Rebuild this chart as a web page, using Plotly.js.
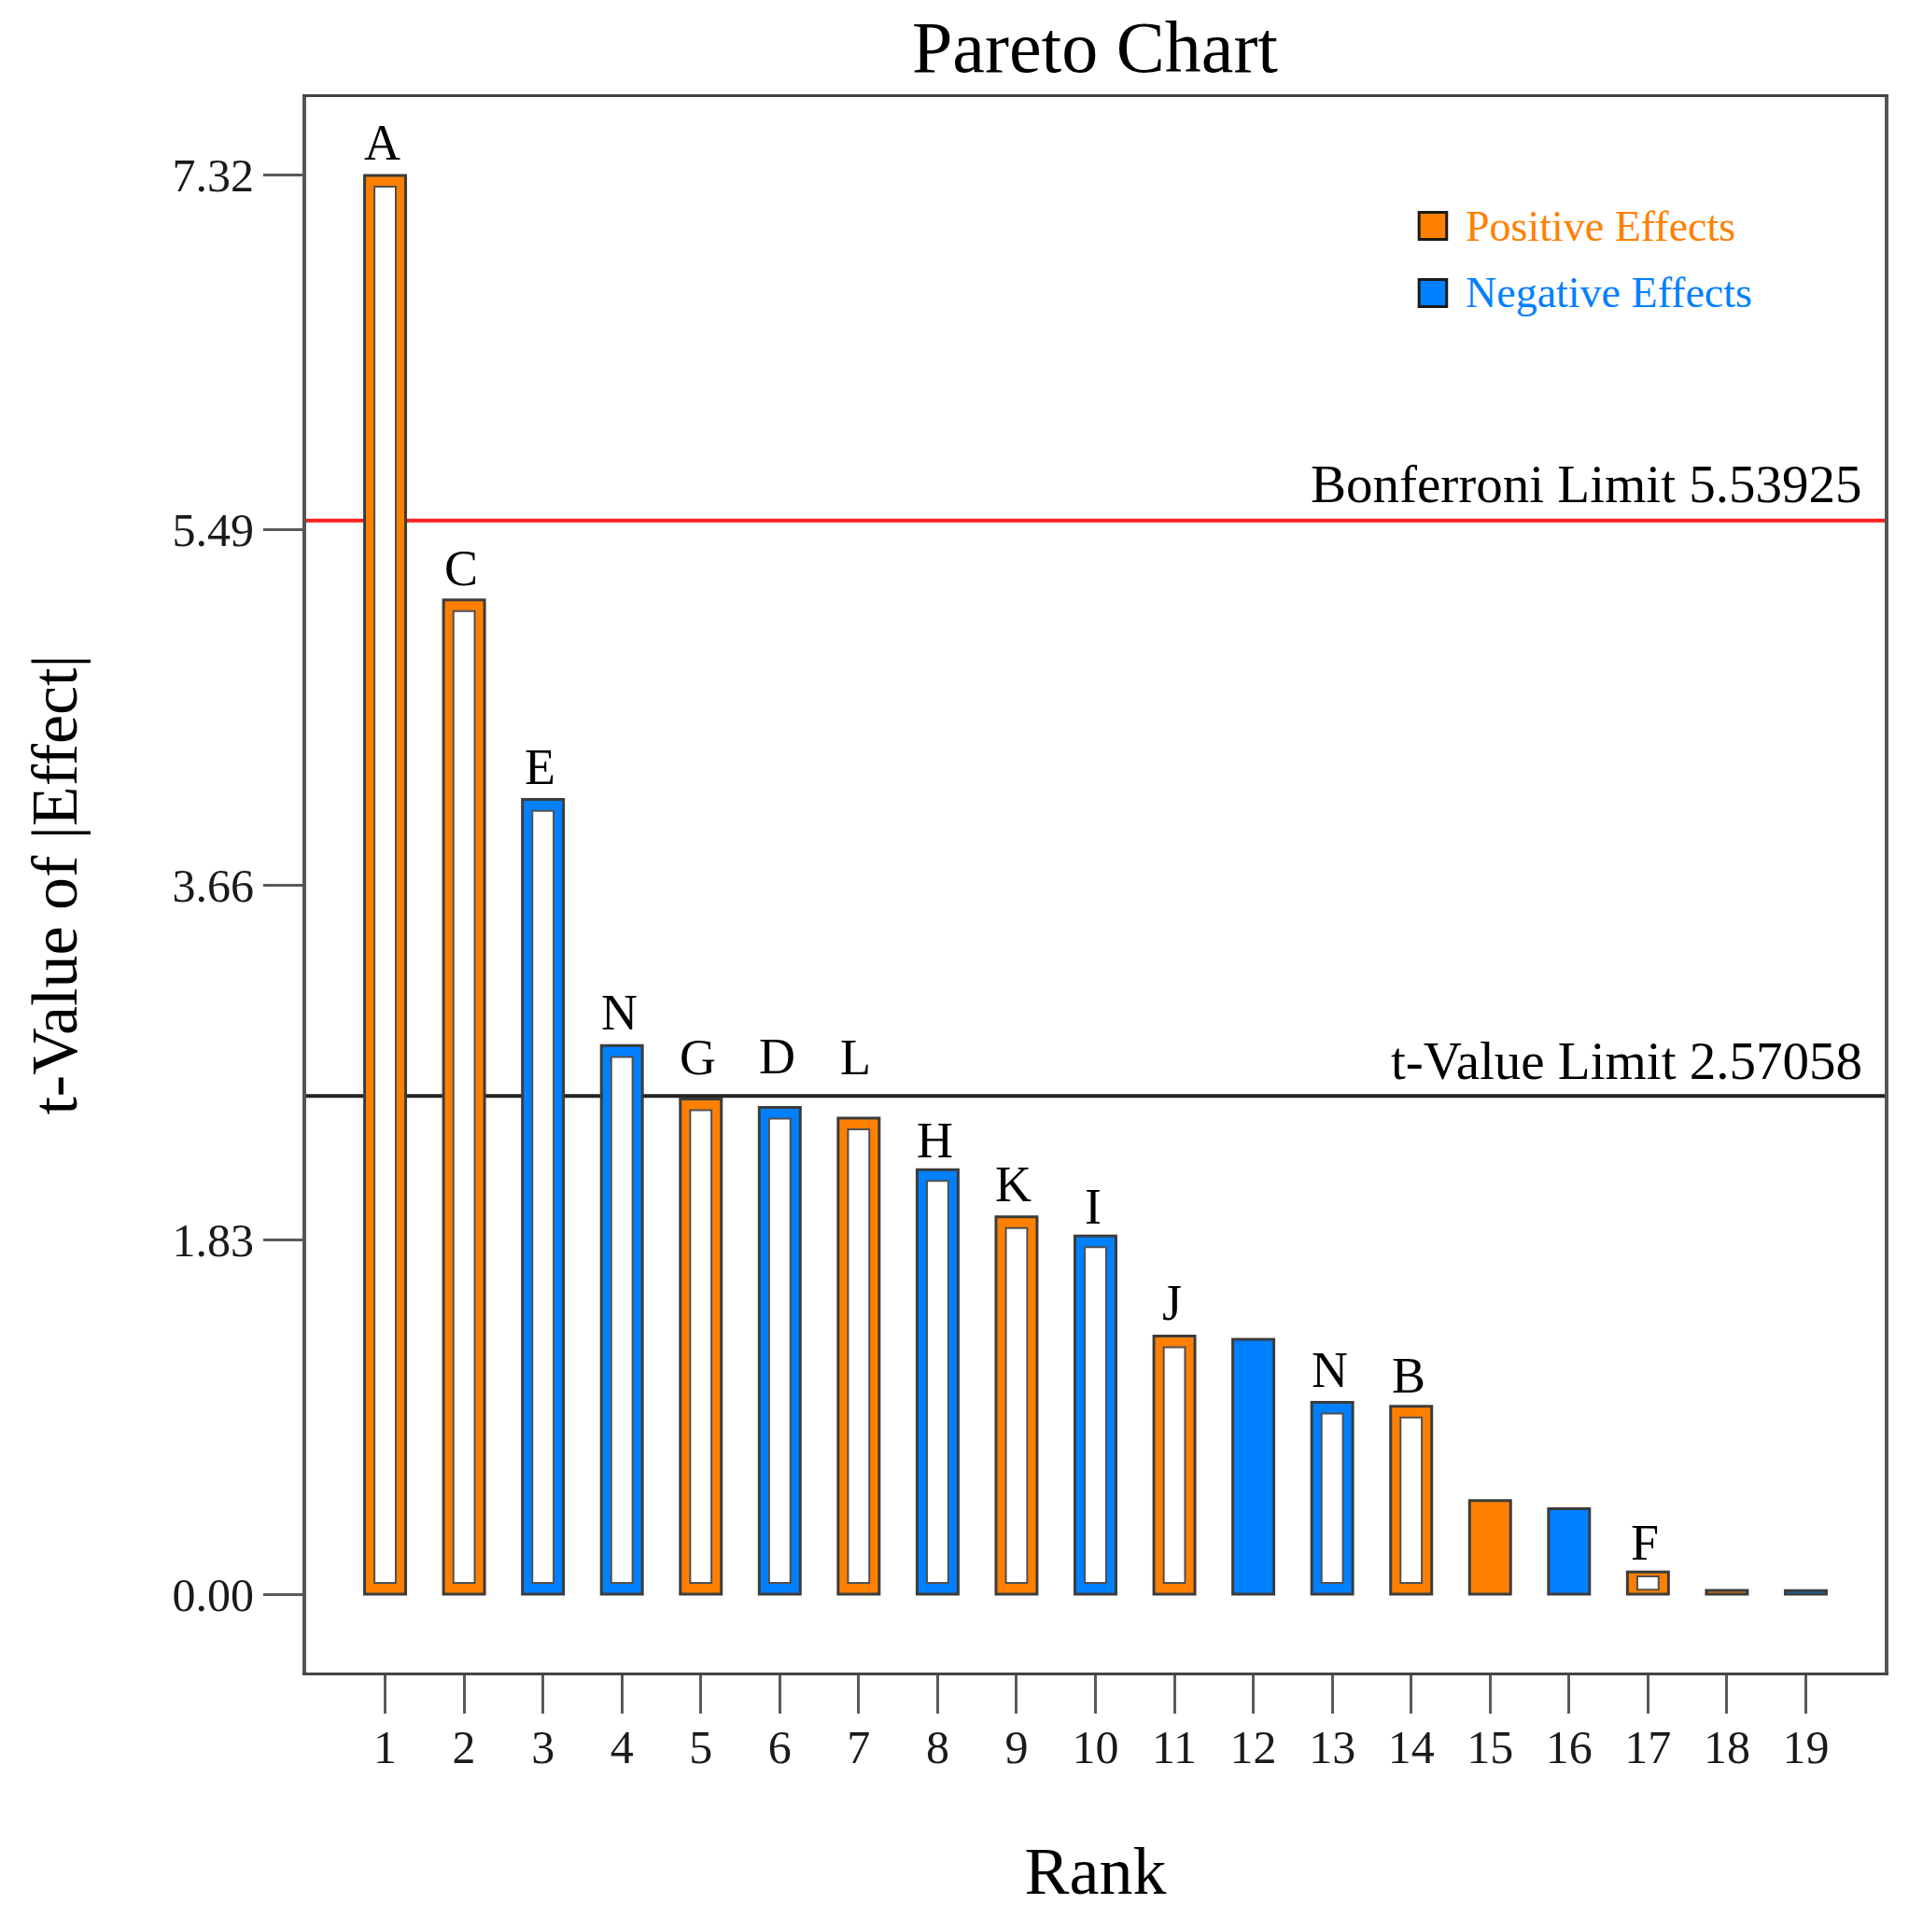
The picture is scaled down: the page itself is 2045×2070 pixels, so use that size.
<!DOCTYPE html>
<html>
<head>
<meta charset="utf-8">
<script src="https://cdn.plot.ly/plotly-3.0.1.min.js"></script>
<style>
  html, body { margin: 0; padding: 0; background: #ffffff; }
  #chart { width: 2045px; height: 2070px; }
</style>
</head>
<body>
<div id="chart"></div>
<script>
// ---- data ----
const ranks = [1, 2, 3, 4, 5, 6, 7, 8, 9, 10, 11, 12, 13, 14, 15, 16, 17, 18, 19];
const tValues = [7.32, 5.13, 4.10, 2.83, 2.555, 2.512, 2.456, 2.19, 1.947, 1.848, 1.332, 1.315, 0.99, 0.97, 0.483, 0.441, 0.115, 0.02, 0.019];
const termLabels = ['A', 'C', 'E', 'N', 'G', 'D', 'L', 'H', 'K', 'I', 'J', '', 'N', 'B', '', '', 'F', '', ''];
const effectSigns = ['+', '+', '-', '-', '+', '-', '+', '-', '+', '-', '+', '-', '-', '+', '+', '-', '+', '+', '-'];
const bonferroniLimit = 5.53925;
const tValueLimit = 2.57058;
const yTickVals = [0, 1.83, 3.66, 5.49, 7.32];
const yTickText = ['0.00', '1.83', '3.66', '5.49', '7.32'];
const legendNames = ['Positive Effects', 'Negative Effects'];

// ---- styles ----
const ORANGE = '#FF8000';
const BLUE = '#0080FF';
const FONT = 'Liberation Serif, Times New Roman, serif';
const barColors = effectSigns.map(s => s === '+' ? ORANGE : BLUE);
const inModel = termLabels.map(l => l !== '');
// extra vertical nudge (px) of some term labels, to mimic the label de-overlap
const labelNudge = { 2: -1, 5: 9, 6: 19, 7: 30, 8: -4, 10: -4, 14: -2, 17: -4 };

// outer bars
const outer = {
  type: 'bar', x: ranks, y: tValues, width: 0.52,
  marker: { color: barColors, line: { color: '#3c3c3c', width: 3 } },
  hoverinfo: 'skip', showlegend: false
};

// inner (hollow) rectangles for model terms
const hx = [], hy = [], hb = [];
ranks.forEach((r, i) => {
  if (!inModel[i]) return;
  const inset = Math.min(0.058, tValues[i] * 0.2);
  hx.push(r); hb.push(inset); hy.push(tValues[i] - 2 * inset);
});
const inner = {
  type: 'bar', x: hx, y: hy, base: hb, width: 0.27,
  marker: { color: '#ffffff', line: { color: '#505050', width: 2 } },
  hoverinfo: 'skip', showlegend: false
};

const annotations = [];
ranks.forEach((r, i) => {
  if (!termLabels[i]) return;
  annotations.push({
    x: r, y: tValues[i], xref: 'x', yref: 'y', text: termLabels[i],
    showarrow: false, xanchor: 'center', yanchor: 'bottom', xshift: -3,
    yshift: 3 + (labelNudge[r] || 0),
    font: { family: FONT, size: 54, color: '#000000' }
  });
});
annotations.push({
  x: 1, xref: 'paper', y: bonferroniLimit, yref: 'y', text: 'Bonferroni Limit 5.53925',
  showarrow: false, xanchor: 'right', yanchor: 'bottom', xshift: -22, yshift: 6,
  font: { family: FONT, size: 57, color: '#000000' }
});
annotations.push({
  x: 1, xref: 'paper', y: tValueLimit, yref: 'y', text: 't-Value Limit 2.57058',
  showarrow: false, xanchor: 'right', yanchor: 'bottom', xshift: -22, yshift: 4,
  font: { family: FONT, size: 57, color: '#000000' }
});
// legend (manual, for large square keys)
const legendColors = [ORANGE, BLUE];
const legendY = [0.9182, 0.8756];
const shapes = [
  { type: 'line', xref: 'paper', x0: 0, x1: 1, yref: 'y', y0: bonferroniLimit, y1: bonferroniLimit,
    line: { color: '#FF1E1E', width: 4 }, layer: 'below' },
  { type: 'line', xref: 'paper', x0: 0, x1: 1, yref: 'y', y0: tValueLimit, y1: tValueLimit,
    line: { color: '#222222', width: 4 }, layer: 'below' }
];
legendNames.forEach((name, i) => {
  shapes.push({
    type: 'rect', xref: 'paper', yref: 'paper',
    x0: 0.7050, x1: 0.7225, y0: legendY[i] - 0.0086, y1: legendY[i] + 0.0086,
    fillcolor: legendColors[i], line: { color: '#1a1a1a', width: 3 }
  });
  annotations.push({
    x: 0.7335, y: legendY[i], xref: 'paper', yref: 'paper', text: name,
    showarrow: false, xanchor: 'left', yanchor: 'middle',
    font: { family: FONT, size: 46, color: legendColors[i] }
  });
});

const layout = {
  width: 2045, height: 2070,
  margin: { l: 328, r: 26, t: 104, b: 278 },
  paper_bgcolor: '#ffffff', plot_bgcolor: '#ffffff',
  barmode: 'overlay',
  showlegend: false,
  title: {
    text: 'Pareto Chart', x: 0.5736, xanchor: 'center', xref: 'container',
    y: 0.9758, yanchor: 'middle', yref: 'container',
    font: { family: FONT, size: 78, color: '#000000' }
  },
  xaxis: {
    range: [0, 20], tickvals: ranks, ticktext: ranks.map(String),
    ticks: 'outside', ticklen: 41, tickwidth: 3, tickcolor: '#5a5a5a',
    ticklabelstandoff: -7,
    showline: true, linecolor: '#444444', linewidth: 3, mirror: true,
    showgrid: false, zeroline: false,
    tickfont: { family: FONT, size: 50, color: '#1a1a1a' },
    title: { text: 'Rank', standoff: 80, font: { family: FONT, size: 72, color: '#000000' } }
  },
  yaxis: {
    range: [-0.404, 7.724], tickvals: yTickVals, ticktext: yTickText,
    ticks: 'outside', ticklen: 42, tickwidth: 3, tickcolor: '#5a5a5a',
    showline: true, linecolor: '#555555', linewidth: 4, mirror: true,
    showgrid: false, zeroline: false,
    tickfont: { family: FONT, size: 50, color: '#1a1a1a' },
    title: { text: 't-Value of |Effect|', standoff: 80, font: { family: FONT, size: 70, color: '#000000' } }
  },
  annotations: annotations,
  shapes: shapes
};

Plotly.newPlot('chart', [outer, inner], layout, { staticPlot: true, displayModeBar: false });
</script>
</body>
</html>
